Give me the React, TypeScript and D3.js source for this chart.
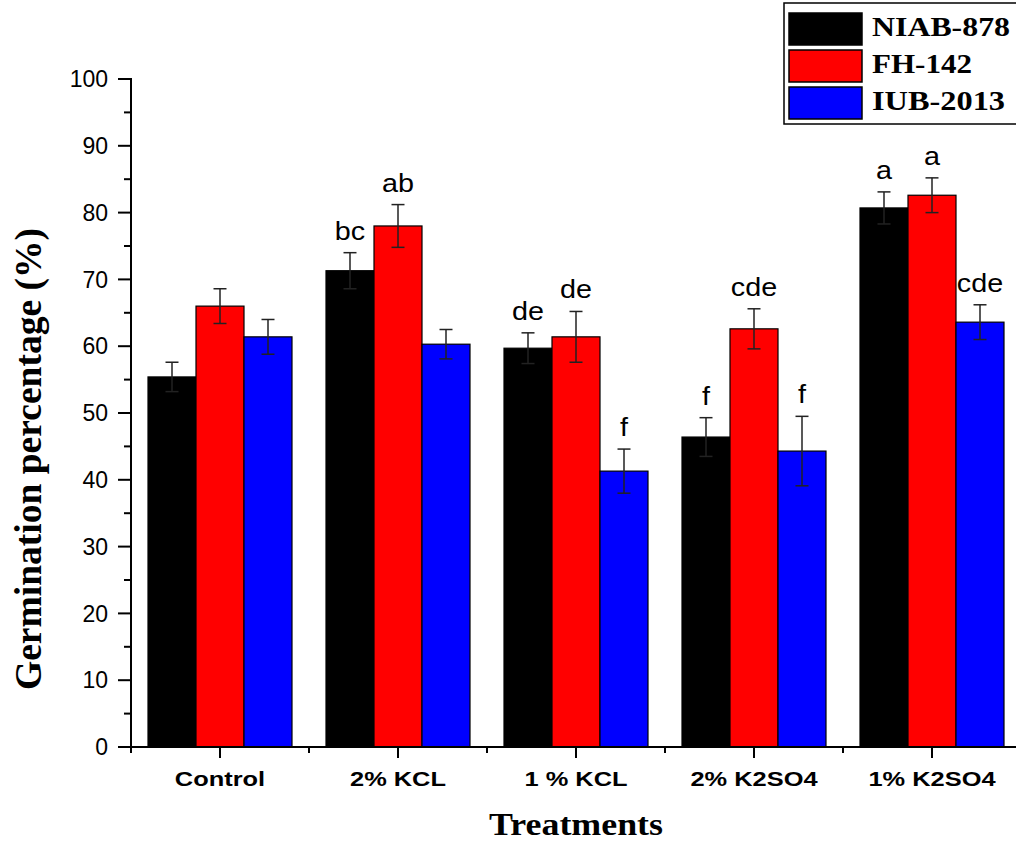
import React from "react"
import * as d3 from "d3"

// treatments on the x axis
const treatments = ["Control", "2% KCL", "1 % KCL", "2% K2SO4", "1% K2SO4"]
const varieties = ["NIAB-878", "FH-142", "IUB-2013"]
const colors = ["#000000", "#ff0000", "#0000ff"]

// germination % per variety, one value per treatment
const niab = [55.4, 71.3, 59.7, 46.4, 80.7]
const fh = [66.0, 78.0, 61.4, 62.6, 82.6]
const iub = [61.4, 60.3, 41.3, 44.3, 63.6]

// standard errors
const niabErr = [2.2, 2.7, 2.3, 2.9, 2.4]
const fhErr = [2.6, 3.2, 3.8, 3.0, 2.6]
const iubErr = [2.6, 2.2, 3.3, 5.2, 2.6]

// significance letters (empty = none)
const niabLetters = ["", "bc", "de", "f", "a"]
const fhLetters = ["", "ab", "de", "cde", "a"]
const iubLetters = ["", "", "f", "f", "cde"]

const yTicks = [0, 10, 20, 30, 40, 50, 60, 70, 80, 90, 100]
const yMinor = [5, 15, 25, 35, 45, 55, 65, 75, 85, 95]

const values = [niab, fh, iub]
const errors = [niabErr, fhErr, iubErr]
const letters = [niabLetters, fhLetters, iubLetters]

const SANS = "Arial, 'Liberation Sans', sans-serif"
const SERIF = "'Times New Roman', 'Liberation Serif', serif"

export default function App() {
  const width = 1016
  const height = 844
  const left = 131
  const right = 1021
  const top = 79
  const bottom = 747

  const x = d3.scaleBand<string>()
    .domain(treatments)
    .range([left, right])
    .paddingInner(34 / 178)
    .paddingOuter(17 / 178)

  const xSeries = d3.scaleBand<string>()
    .domain(varieties)
    .range([0, x.bandwidth()])

  const y = d3.scaleLinear().domain([0, 100]).range([bottom, top])

  const bw = xSeries.bandwidth()
  const step = x.step()

  return (
    <svg width={width} height={height} style={{ display: "block", position: "absolute", left: 0, top: 0 }}>
      <rect width={width} height={height} fill="#fff" />

      {/* bars */}
      {varieties.map((v, s) => (
        <g key={v}>
          {treatments.map((t, i) => {
            const bx = (x(t) ?? 0) + (xSeries(v) ?? 0)
            const val = values[s][i]
            return (
              <rect key={t} x={bx} y={y(val)} width={bw} height={y(0) - y(val)}
                fill={colors[s]} stroke="#000" strokeWidth={1.2} />
            )
          })}
        </g>
      ))}

      {/* error bars + letters */}
      {varieties.map((v, s) => (
        <g key={v + "err"}>
          {treatments.map((t, i) => {
            const cx = (x(t) ?? 0) + (xSeries(v) ?? 0) + bw / 2
            const val = values[s][i]
            const e = errors[s][i]
            const hi = y(val + e)
            const lo = y(val - e)
            const lab = letters[s][i]
            return (
              <g key={t}>
                <line x1={cx} x2={cx} y1={hi} y2={lo} stroke="#222" strokeWidth={1.5} />
                <line x1={cx - 6.5} x2={cx + 6.5} y1={hi} y2={hi} stroke="#222" strokeWidth={1.5} />
                <line x1={cx - 6.5} x2={cx + 6.5} y1={lo} y2={lo} stroke="#222" strokeWidth={1.5} />
                {lab && (
                  <text transform={`translate(${cx},${hi - 13}) scale(1.15,1)`} textAnchor="middle"
                    fontFamily={SANS} fontSize={25} fill="#000">{lab}</text>
                )}
              </g>
            )
          })}
        </g>
      ))}

      {/* y axis */}
      <line x1={left} x2={left} y1={top - 1} y2={bottom + 1} stroke="#000" strokeWidth={2} />
      {yTicks.map(t => (
        <g key={t}>
          <line x1={left - 13} x2={left} y1={y(t)} y2={y(t)} stroke="#000" strokeWidth={2} />
          <text x={left - 23} y={y(t)} dy="0.36em" textAnchor="end" fontFamily={SANS} fontSize={23} fill="#000">{t}</text>
        </g>
      ))}
      {yMinor.map(t => (
        <line key={t} x1={left - 7} x2={left} y1={y(t)} y2={y(t)} stroke="#000" strokeWidth={2} />
      ))}

      {/* x axis */}
      <line x1={left - 1} x2={width} y1={bottom} y2={bottom} stroke="#000" strokeWidth={2} />
      {treatments.map((t, i) => {
        const cx = (x(t) ?? 0) + x.bandwidth() / 2
        return (
          <g key={t}>
            <line x1={cx} x2={cx} y1={bottom} y2={bottom + 11} stroke="#000" strokeWidth={2} />
            <line x1={cx + step / 2} x2={cx + step / 2} y1={bottom} y2={bottom + 6} stroke="#000" strokeWidth={2} />
            {i === 0 && <line x1={cx - step / 2} x2={cx - step / 2} y1={bottom} y2={bottom + 6} stroke="#000" strokeWidth={2} />}
            <text transform={`translate(${cx},786) scale(1.27,1)`} textAnchor="middle"
              fontFamily={SANS} fontWeight="bold" fontSize={20} fill="#000">{t}</text>
          </g>
        )
      })}

      {/* axis titles */}
      <text x={576} y={835} textAnchor="middle" fontFamily={SERIF} fontWeight="bold" fontSize={32}
        textLength={174} lengthAdjust="spacingAndGlyphs" fill="#000">Treatments</text>
      <text transform="translate(41,459) scale(1.18,1) rotate(-90)" textAnchor="middle" fontFamily={SERIF}
        fontWeight="bold" fontSize={32} textLength={462} lengthAdjust="spacingAndGlyphs" fill="#000">
        Germination percentage (%)
      </text>

      {/* legend */}
      <rect x={784} y={3} width={240} height={121} fill="#fff" stroke="#000" strokeWidth={1.5} />
      {varieties.map((v, s) => {
        const ly = 13 + s * 37
        return (
          <g key={v}>
            <rect x={789} y={ly} width={73} height={32} fill={colors[s]} stroke="#000" strokeWidth={1.5} />
            <text x={872} y={ly + 23} fontFamily={SERIF} fontWeight="bold" fontSize={27}
              textLength={v === "NIAB-878" ? 138 : v === "FH-142" ? 100 : 133} lengthAdjust="spacingAndGlyphs" fill="#000">{v}</text>
          </g>
        )
      })}
    </svg>
  )
}
